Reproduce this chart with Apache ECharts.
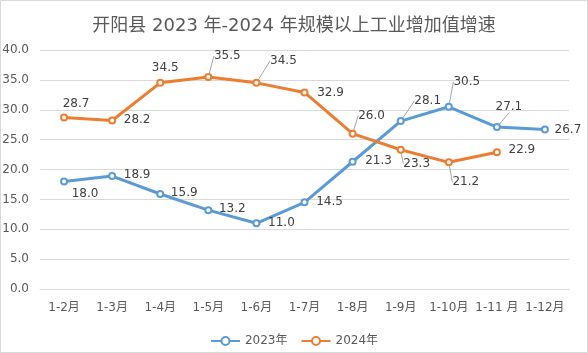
<!DOCTYPE html>
<html>
<head>
<meta charset="utf-8">
<script src="https://cdn.jsdelivr.net/npm/echarts@6/dist/echarts.min.js"></script>
<style>
  html, body { margin: 0; padding: 0; background: #fff; }
  #main { width: 588px; height: 353px; }
</style>
</head>
<body>
<div id="main"></div>
<script>
var months = ['1-2月', '1-3月', '1-4月', '1-5月', '1-6月', '1-7月', '1-8月', '1-9月', '1-10月', '1-11 月', '1-12月'];
var yr2023 = [18.0, 18.9, 15.9, 13.2, 11.0, 14.5, 21.3, 28.1, 30.5, 27.1, 26.7];
var yr2024 = [28.7, 28.2, 34.5, 35.5, 34.5, 32.9, 26.0, 23.3, 21.2, 22.9];

// label shift from the point (px), and which labels get a leader line
var off2023 = [[21, 12], [25, -1], [24, -1], [24, -1], [25, 0], [25, 0], [26, -1], [27, -20], [18, -25], [12, -20], [23, 0]];
var off2024 = [[12, -14], [25, -1], [5, -15], [19, -21], [27, -22], [26, 0], [19, -18], [16, 14], [17, 20], [25, -2]];
var lead2023 = [7, 8, 9];
var lead2024 = [3, 4, 6, 7, 8];

var font = '"DejaVu Sans", "Noto Sans CJK SC", sans-serif';

function items(vals, leads) {
  return vals.map(function (v, i) {
    var d = { value: v };
    if (leads.indexOf(i) >= 0) {
      d.labelLine = { show: true, lineStyle: { color: '#a6a6a6', width: 1 } };
    }
    return d;
  });
}

var myChart = echarts.init(document.getElementById('main'));
myChart.setOption({
  backgroundColor: '#fff',
  animation: false,
  title: {
    text: '开阳县 2023 年-2024 年规模以上工业增加值增速',
    left: 'center',
    top: 12,
    textStyle: { fontSize: 18, fontWeight: 'normal', color: '#595959', fontFamily: font }
  },
  graphic: [{
    type: 'rect',
    shape: { x: 0.5, y: 0.5, width: 587, height: 352 },
    style: { fill: null, stroke: '#d9d9d9', lineWidth: 1 },
    silent: true
  }],
  legend: {
    bottom: 1,
    left: 'center',
    itemWidth: 29,
    itemHeight: 10,
    itemGap: 13,
    textStyle: { fontSize: 12, color: '#595959', fontFamily: font },
    data: ['2023年', '2024年']
  },
  grid: {
    left: 40,
    right: 19,
    top: 50,
    bottom: 64,
    outerBoundsMode: 'none'
  },
  xAxis: {
    type: 'category',
    data: months,
    boundaryGap: true,
    axisTick: { show: false },
    axisLine: { lineStyle: { color: '#d9d9d9' } },
    axisLabel: { color: '#595959', fontSize: 12, margin: 13, interval: 0, fontFamily: font }
  },
  yAxis: {
    type: 'value',
    min: 0,
    max: 40,
    interval: 5,
    axisLine: { show: false },
    axisTick: { show: false },
    splitLine: { lineStyle: { color: '#d9d9d9' } },
    axisLabel: {
      color: '#595959', fontSize: 12, margin: 11, fontFamily: font,
      formatter: function (v) { return v.toFixed(1); }
    }
  },
  series: [{
    name: '2023年',
    type: 'line',
    data: items(yr2023, lead2023),
    symbol: 'emptyCircle',
    symbolSize: 6,
    lineStyle: { width: 3, color: '#5b9bd5' },
    itemStyle: { color: '#5b9bd5', borderWidth: 1 },
    label: {
      show: true, position: 'inside', color: '#404040', fontSize: 12, fontFamily: font,
      formatter: function (p) { return p.value.toFixed(1); }
    },
    labelLine: { show: false },
    labelLayout: function (p) {
      var o = off2023[p.dataIndex];
      return { dx: o[0], dy: o[1] };
    }
  }, {
    name: '2024年',
    type: 'line',
    data: items(yr2024, lead2024),
    symbol: 'emptyCircle',
    symbolSize: 6,
    lineStyle: { width: 3, color: '#ed7d31' },
    itemStyle: { color: '#ed7d31', borderWidth: 1 },
    label: {
      show: true, position: 'inside', color: '#404040', fontSize: 12, fontFamily: font,
      formatter: function (p) { return p.value.toFixed(1); }
    },
    labelLine: { show: false },
    labelLayout: function (p) {
      var o = off2024[p.dataIndex];
      return { dx: o[0], dy: o[1] };
    }
  }]
});
</script>
</body>
</html>
